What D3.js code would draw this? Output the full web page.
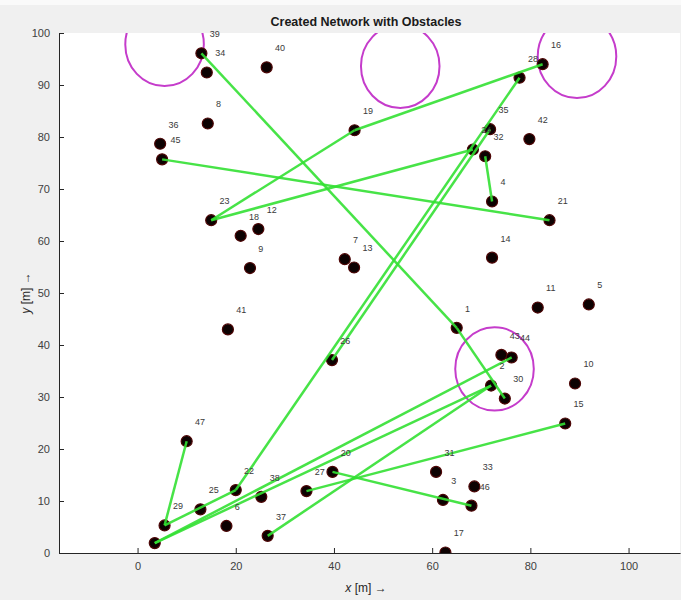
<!DOCTYPE html>
<html lang="en">
<head>
<meta charset="UTF-8">
<title>Created Network with Obstacles</title>
<script src="https://cdn.jsdelivr.net/npm/d3@7"></script>
<style>
  body { margin: 0; background: #f0f0f0; }
  svg text { font-family: "Liberation Sans", Arial, sans-serif; }
</style>
</head>
<body>
<svg id="fig" width="681" height="600"></svg>
<script>
// node ids and positions [m]
const nodeIds = [1,2,3,4,5,6,7,8,9,10,11,12,13,14,15,16,17,18,19,20,21,22,23,24,25,26,27,28,29,30,31,32,33,34,35,36,37,38,39,40,41,42,43,44,45,46,47,48];
const nodeX = [65.0,72.0,62.2,72.2,91.9,18.1,42.2,14.3,22.9,89.1,81.5,24.6,44.1,72.2,87.1,82.5,62.7,21.0,44.2,39.7,83.9,20.0,15.0,68.3,12.8,39.6,34.4,77.8,5.5,74.8,60.8,70.8,68.6,14.1,71.8,4.6,26.5,25.2,13.0,26.3,18.4,79.8,74.1,76.2,5.0,68.0,10.0,3.5];
const nodeY = [43.3,32.2,10.2,67.6,47.8,5.2,56.5,82.6,54.8,32.6,47.2,62.3,54.9,56.8,24.9,94.0,0.1,61.0,81.3,15.6,64.0,12.1,64.0,77.6,8.4,37.1,11.9,91.4,5.3,29.7,15.6,76.3,12.8,92.4,81.5,78.7,3.3,10.8,96.1,93.4,43.0,79.6,38.1,37.6,75.7,9.1,21.5,1.9];
// labels shown next to the nodes (48 sits hidden under 29)
const labelIds = nodeIds.filter(d => d !== 48);
// links between nodes (from id, to id)
const linkFrom = [39,1,45,23,19,23,28,35,32,47,29,48,48,37,27,20];
const linkTo   = [1,30,21,19,16,24,22,26,4,29,22,2,44,2,15,46];
// obstacles: centre and radius [m]
const obsX = [5.5,53.5,89.5,72.7];
const obsY = [97.8,93.6,95.5,35.4];
const obsR = [8,8,8,8];
const xTicks = [0,20,40,60,80,100];
const yTicks = [0,10,20,30,40,50,60,70,80,90,100];

const svg = d3.select("#fig");
const L = 59, T = 33, B = 553;
const x = d3.scaleLinear().domain([-16, 110.5]).range([L, L + 126.5 * 4.91]);
const y = d3.scaleLinear().domain([0, 100]).range([B, T]);
const R = x.range()[1];

svg.append("rect").attr("width", 681).attr("height", 600).attr("fill", "#f0f0f0");
svg.append("rect").attr("width", 681).attr("height", 5).attr("fill", "#fafafa");
svg.append("rect").attr("x", L).attr("y", T).attr("width", R - L).attr("height", B - T).attr("fill", "#ffffff");

svg.append("defs").append("clipPath").attr("id", "plotclip")
  .append("rect").attr("x", L).attr("y", T).attr("width", R - L).attr("height", B - T);
const plot = svg.append("g").attr("clip-path", "url(#plotclip)");

// obstacles
plot.selectAll("ellipse.obs").data(obsX).join("ellipse").attr("class", "obs")
  .attr("cx", (d, i) => x(obsX[i]))
  .attr("cy", (d, i) => y(obsY[i]))
  .attr("rx", (d, i) => x(obsR[i]) - x(0))
  .attr("ry", (d, i) => y(0) - y(obsR[i]))
  .attr("fill", "none").attr("stroke", "#c53ccb").attr("stroke-width", 2);

const idx = id => nodeIds.indexOf(id);

// nodes
plot.selectAll("circle.node").data(nodeIds).join("circle").attr("class", "node")
  .attr("cx", (d, i) => x(nodeX[i]))
  .attr("cy", (d, i) => y(nodeY[i]))
  .attr("r", 5.5)
  .attr("fill", "#0d0202").attr("stroke", "#4d0606").attr("stroke-width", 1.2);

// links
plot.selectAll("line.link").data(linkFrom).join("line").attr("class", "link")
  .attr("x1", (d, i) => x(nodeX[idx(linkFrom[i])]))
  .attr("y1", (d, i) => y(nodeY[idx(linkFrom[i])]))
  .attr("x2", (d, i) => x(nodeX[idx(linkTo[i])]))
  .attr("y2", (d, i) => y(nodeY[idx(linkTo[i])]))
  .attr("stroke", "#33e033").attr("stroke-width", 2.5).attr("stroke-opacity", 0.9);

// node labels (not clipped, like the top one)
svg.append("g").selectAll("text.lbl").data(labelIds).join("text").attr("class", "lbl")
  .attr("x", d => x(nodeX[idx(d)] + 1.7))
  .attr("y", d => y(nodeY[idx(d)] + 3.7))
  .attr("dy", "0.35em")
  .attr("font-size", 9).attr("fill", "#3a3a3a")
  .text(d => d);

// axes
const ax = svg.append("g").attr("transform", `translate(0,${B})`)
  .call(d3.axisBottom(x).tickValues(xTicks).tickSizeInner(-5).tickSizeOuter(0).tickPadding(9));
const ay = svg.append("g").attr("transform", `translate(${L},0)`)
  .call(d3.axisLeft(y).tickValues(yTicks).tickSizeInner(-5).tickSizeOuter(0).tickPadding(9));
[ax, ay].forEach(g => {
  g.select(".domain").attr("stroke", "#262626").attr("stroke-width", 1);
  g.selectAll(".tick line").attr("stroke", "#262626");
  g.selectAll(".tick text").attr("fill", "#404040").attr("font-size", 11)
    .attr("font-family", "'Liberation Sans', Arial, sans-serif");
});

// title and axis labels
svg.append("text").attr("x", 366).attr("y", 26).attr("text-anchor", "middle")
  .attr("font-size", 12.5).attr("font-weight", "bold").attr("fill", "#1a1a1a")
  .text("Created Network with Obstacles");

const xl = svg.append("text").attr("x", 366).attr("y", 592).attr("text-anchor", "middle")
  .attr("font-size", 12).attr("fill", "#262626");
xl.append("tspan").attr("font-style", "italic").text("x");
xl.append("tspan").text(" [m] \u2192");

const yl = svg.append("text").attr("transform", "translate(30,293) rotate(-90)")
  .attr("text-anchor", "middle").attr("font-size", 12).attr("fill", "#262626");
yl.append("tspan").attr("font-style", "italic").text("y");
yl.append("tspan").text(" [m] \u2192");
</script>
</body>
</html>
